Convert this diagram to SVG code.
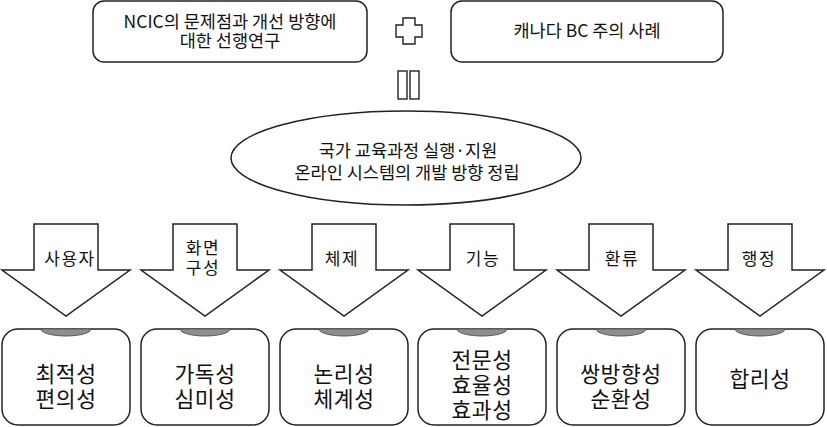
<svg xmlns="http://www.w3.org/2000/svg" width="827" height="427" viewBox="0 0 827 427">
<style>
text{font-family:"Noto Sans CJK KR","Noto Sans",sans-serif;fill:#111;text-anchor:middle}
.top{font-size:17.5px}
.ell{font-size:17.5px}
.lbl{font-size:17px;letter-spacing:1.5px}
.res{font-size:21.5px;letter-spacing:0.6px}
.box{fill:#fff;stroke:#222;stroke-width:1.5}
.arrow{fill:#fff;stroke:#222;stroke-width:1.5;stroke-linejoin:miter}
.tab{fill:#8e8e8e;stroke:#5a5a5a;stroke-width:1}
.sym{fill:#fff;stroke:#222;stroke-width:1.4}
</style>
<rect width="827" height="427" fill="#fff"/>
<g id="source1">
<rect class="box" x="93" y="1" width="274" height="61" rx="11"/>
<text class="top" x="230" y="28">NCIC의 문제점과 개선 방향에</text>
<text class="top" x="230" y="47">대한 선행연구</text>
</g>
<g id="plus">
<path class="sym" d="M403 18 H415 V25 H422 V37 H415 V44 H403 V37 H396 V25 H403 Z"/>
</g>
<g id="source2">
<rect class="box" x="451" y="1" width="272" height="61" rx="11"/>
<text class="top" x="587" y="37">캐나다 BC 주의 사례</text>
</g>
<g id="equals">
<rect class="sym" x="398" y="71" width="9" height="28"/>
<rect class="sym" x="410" y="71" width="9" height="28"/>
</g>
<g id="goal">
<ellipse class="box" cx="406" cy="158" rx="175" ry="47"/>
<text class="ell" x="408" y="157">국가 교육과정 실행·지원</text>
<text class="ell" x="407" y="179">온라인 시스템의 개발 방향 정립</text>
</g>
<g id="connectors">
<polygon class="arrow" points="34,224 98,224 98,270 130,270 66,316 2,270 34,270"/>
<polygon class="arrow" points="173,224 237,224 237,270 269,270 205,316 141,270 173,270"/>
<polygon class="arrow" points="312,224 376,224 376,270 408,270 344,316 280,270 312,270"/>
<polygon class="arrow" points="450,224 514,224 514,270 546,270 482,316 418,270 450,270"/>
<polygon class="arrow" points="589,224 653,224 653,270 685,270 621,316 557,270 589,270"/>
<polygon class="arrow" points="728,224 792,224 792,270 824,270 760,316 696,270 728,270"/>
<text class="lbl" x="70" y="265">사용자</text>
<text class="lbl" x="203" y="254">화면</text>
<text class="lbl" x="203" y="274">구성</text>
<text class="lbl" x="342" y="265">체제</text>
<text class="lbl" x="483" y="265">기능</text>
<text class="lbl" x="622" y="265">환류</text>
<text class="lbl" x="759" y="265">행정</text>
</g>
<g id="n1">
<rect class="box" x="2" y="329" width="128" height="96" rx="16"/>
<path class="tab" d="M41 329 A25 7 0 0 0 91 329 Z"/>
<text class="res" x="66" y="382">최적성</text>
<text class="res" x="66" y="407">편의성</text>
</g>
<g id="n2">
<rect class="box" x="141" y="329" width="128" height="96" rx="16"/>
<path class="tab" d="M180 329 A25 7 0 0 0 230 329 Z"/>
<text class="res" x="205" y="382">가독성</text>
<text class="res" x="205" y="407">심미성</text>
</g>
<g id="n3">
<rect class="box" x="280" y="329" width="128" height="96" rx="16"/>
<path class="tab" d="M319 329 A25 7 0 0 0 369 329 Z"/>
<text class="res" x="344" y="382">논리성</text>
<text class="res" x="344" y="407">체계성</text>
</g>
<g id="n4">
<rect class="box" x="418" y="329" width="128" height="96" rx="16"/>
<path class="tab" d="M457 329 A25 7 0 0 0 507 329 Z"/>
<text class="res" x="482" y="368">전문성</text>
<text class="res" x="482" y="393">효율성</text>
<text class="res" x="482" y="418">효과성</text>
</g>
<g id="n5">
<rect class="box" x="557" y="329" width="128" height="96" rx="16"/>
<path class="tab" d="M596 329 A25 7 0 0 0 646 329 Z"/>
<text class="res" x="621" y="382">쌍방향성</text>
<text class="res" x="621" y="407">순환성</text>
</g>
<g id="n6">
<rect class="box" x="696" y="329" width="128" height="96" rx="16"/>
<path class="tab" d="M735 329 A25 7 0 0 0 785 329 Z"/>
<text class="res" x="760" y="387">합리성</text>
</g>
</svg>
